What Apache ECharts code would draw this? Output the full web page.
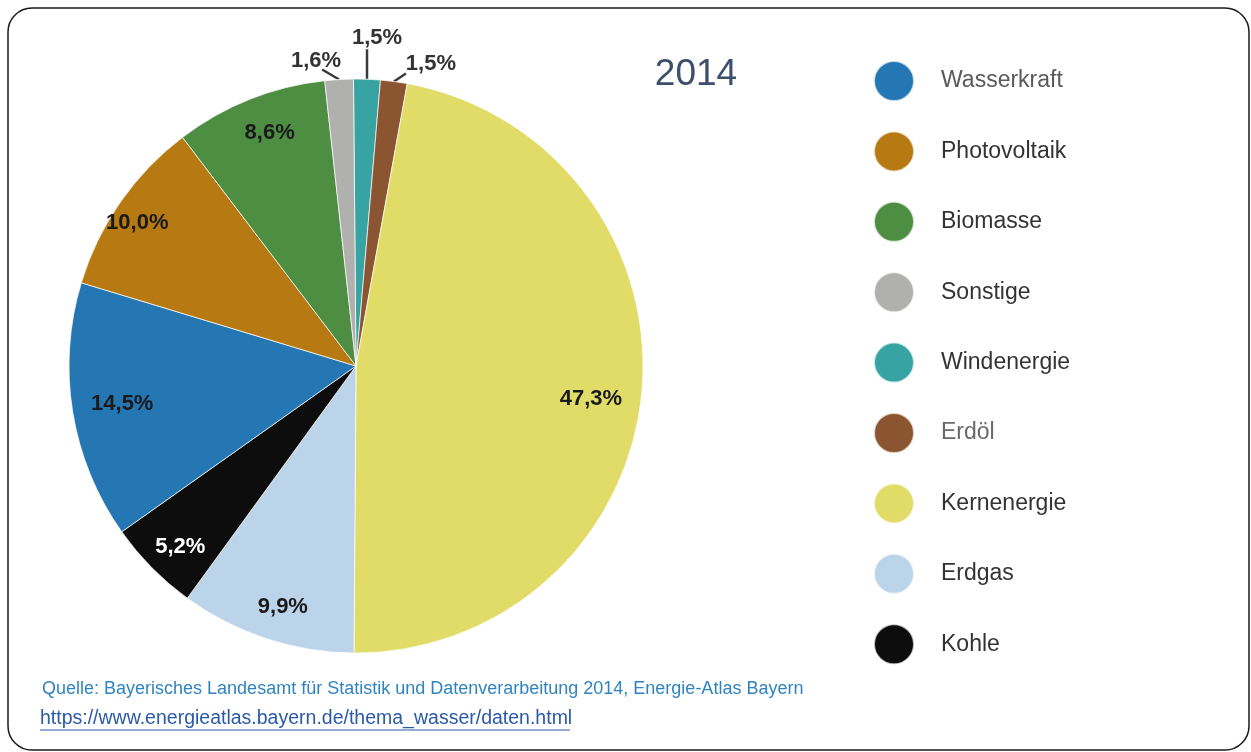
<!DOCTYPE html>
<html>
<head>
<meta charset="utf-8">
<script src="https://cdn.jsdelivr.net/npm/echarts@6/dist/echarts.min.js"></script>
<style>html,body{margin:0;padding:0;background:#fff}#c{width:1251px;height:752px}</style>
</head>
<body>
<div id="c"></div>
<script>
// Data (clockwise from top)
const categories = ['Windenergie','Erdöl','Kernenergie','Erdgas','Kohle','Wasserkraft','Photovoltaik','Biomasse','Sonstige'];
const values = [1.5, 1.5, 47.3, 9.9, 5.2, 14.5, 10.0, 8.6, 1.6];
const colors = ['#37a3a3','#8a5530','#e0dc67','#bcd4ea','#0d0d0d','#2577b4','#b77912','#4e8e43','#b0b0ae'];
const legendOrder = ['Wasserkraft','Photovoltaik','Biomasse','Sonstige','Windenergie','Erdöl','Kernenergie','Erdgas','Kohle'];
const legendTextColors = {Wasserkraft:'#5a5a5a', 'Erdöl':'#6a6a6a'};
const smallSlices = ['Windenergie','Erdöl','Sonstige'];
const year = '2014';
const sourceText = 'Quelle: Bayerisches Landesamt für Statistik und Datenverarbeitung 2014, Energie-Atlas Bayern';
const urlText = 'https://www.energieatlas.bayern.de/thema_wasser/daten.html';

const fmt = v => v.toFixed(1).replace('.', ',') + '%';
const FONT = 'Liberation Sans, Arial, sans-serif';
const CENTER = [356, 366];
const R = 287;
const START = 90.5;

// offsets (relative to the slice's outer arc point) for the small outside labels
const smallLabelShift = {Sonstige: [-23, -19], Windenergie: [10, -41], 'Erdöl': [37, -18]};
const smallLineShift = {Sonstige: [-17, -10], Windenergie: [0, -30], 'Erdöl': [12, -8]};
// fine offsets for the inside labels
const insideShift = {'Kernenergie': [-11, 10], Erdgas: [4, 6], Kohle: [0, 7], Wasserkraft: [10, -2], Photovoltaik: [-16, -2], Biomasse: [5, -4]};

const total = values.reduce((a, b) => a + b, 0);
function arcPoint(idx) {
  let cum = 0;
  for (let i = 0; i < idx; i++) cum += values[i];
  cum += values[idx] / 2;
  const ang = (START - 360 * cum / total) * Math.PI / 180;
  return [CENTER[0] + R * Math.cos(ang), CENTER[1] - R * Math.sin(ang)];
}

const mainData = categories.map((n, i) => {
  const small = smallSlices.includes(n);
  return {
    name: n, value: values[i],
    itemStyle: {color: colors[i]},
    label: {show: small},
    labelLine: {show: small, length: 10, length2: 0}
  };
});
const overlayData = categories.map((n, i) => ({
  name: n, value: values[i],
  label: {show: !smallSlices.includes(n), color: n === 'Kohle' ? '#ffffff' : '#1a1a1a'}
}));

const chart = echarts.init(document.getElementById('c'), null, {renderer: 'canvas'});
chart.setOption({
  backgroundColor: '#ffffff',
  animation: false,
  title: {
    text: year, left: 691, top: 51, textAlign: 'center',
    textStyle: {fontFamily: FONT, fontSize: 37, fontWeight: 'normal', color: '#3d4f6b'}
  },
  legend: {
    orient: 'vertical', left: 868, top: 55,
    itemWidth: 40, itemHeight: 40, itemGap: 28.4, icon: 'circle',
    selectedMode: false,
    data: legendOrder.map(n => ({
      name: n,
      itemStyle: {color: colors[categories.indexOf(n)]},
      textStyle: {color: legendTextColors[n] || '#333333'}
    })),
    textStyle: {fontFamily: FONT, fontSize: 23, padding: [0, 0, 0, 22], color: '#333333'}
  },
  graphic: [
    {type: 'rect', shape: {x: 8, y: 8, width: 1241, height: 742, r: 24}, style: {fill: 'none', stroke: '#1a1a1a', lineWidth: 1.5}, z: 100},
    {type: 'text', left: 42, top: 680, style: {text: sourceText, font: '18px ' + FONT, fill: '#2f84bf'}},
    {type: 'text', left: 40, top: 709, style: {text: urlText, font: '19.5px ' + FONT, fill: '#2a5aa8'}},
    {type: 'line', shape: {x1: 40, y1: 730, x2: 570, y2: 730}, style: {stroke: '#2a5aa8', lineWidth: 1}}
  ],
  series: [
    {
      type: 'pie', name: 'main', center: CENTER, radius: [0, R],
      startAngle: START, clockwise: true, avoidLabelOverlap: false,
      silent: true,
      itemStyle: {borderColor: 'rgba(255,255,255,0.7)', borderWidth: 1},
      label: {position: 'outside', formatter: p => fmt(p.value), fontFamily: FONT, fontSize: 22, fontWeight: 'bold', color: '#333333'},
      labelLine: {lineStyle: {color: '#3a3a3a', width: 2.5}},
      labelLayout: p => {
        const name = categories[p.dataIndex];
        const s = smallLabelShift[name];
        if (!s) return {};
        const a = arcPoint(p.dataIndex);
        const l = smallLineShift[name];
        const e = [a[0] + l[0], a[1] + l[1]];
        return {
          x: a[0] + s[0], y: a[1] + s[1], align: 'center', verticalAlign: 'middle',
          labelLinePoints: [[a[0], a[1]], e, e]
        };
      },
      data: mainData
    },
    {
      type: 'pie', name: 'labels', center: CENTER, radius: [0, R * 1.7],
      startAngle: START, clockwise: true, silent: true,
      itemStyle: {color: 'rgba(0,0,0,0)'},
      emphasis: {disabled: true},
      label: {position: 'inside', formatter: p => fmt(p.value), fontFamily: FONT, fontSize: 22, fontWeight: 'bold', color: '#1a1a1a'},
      labelLine: {show: false},
      labelLayout: p => {
        const s = insideShift[categories[p.dataIndex]];
        return s ? {dx: s[0], dy: s[1]} : {};
      },
      data: overlayData
    }
  ]
});
</script>
</body>
</html>
